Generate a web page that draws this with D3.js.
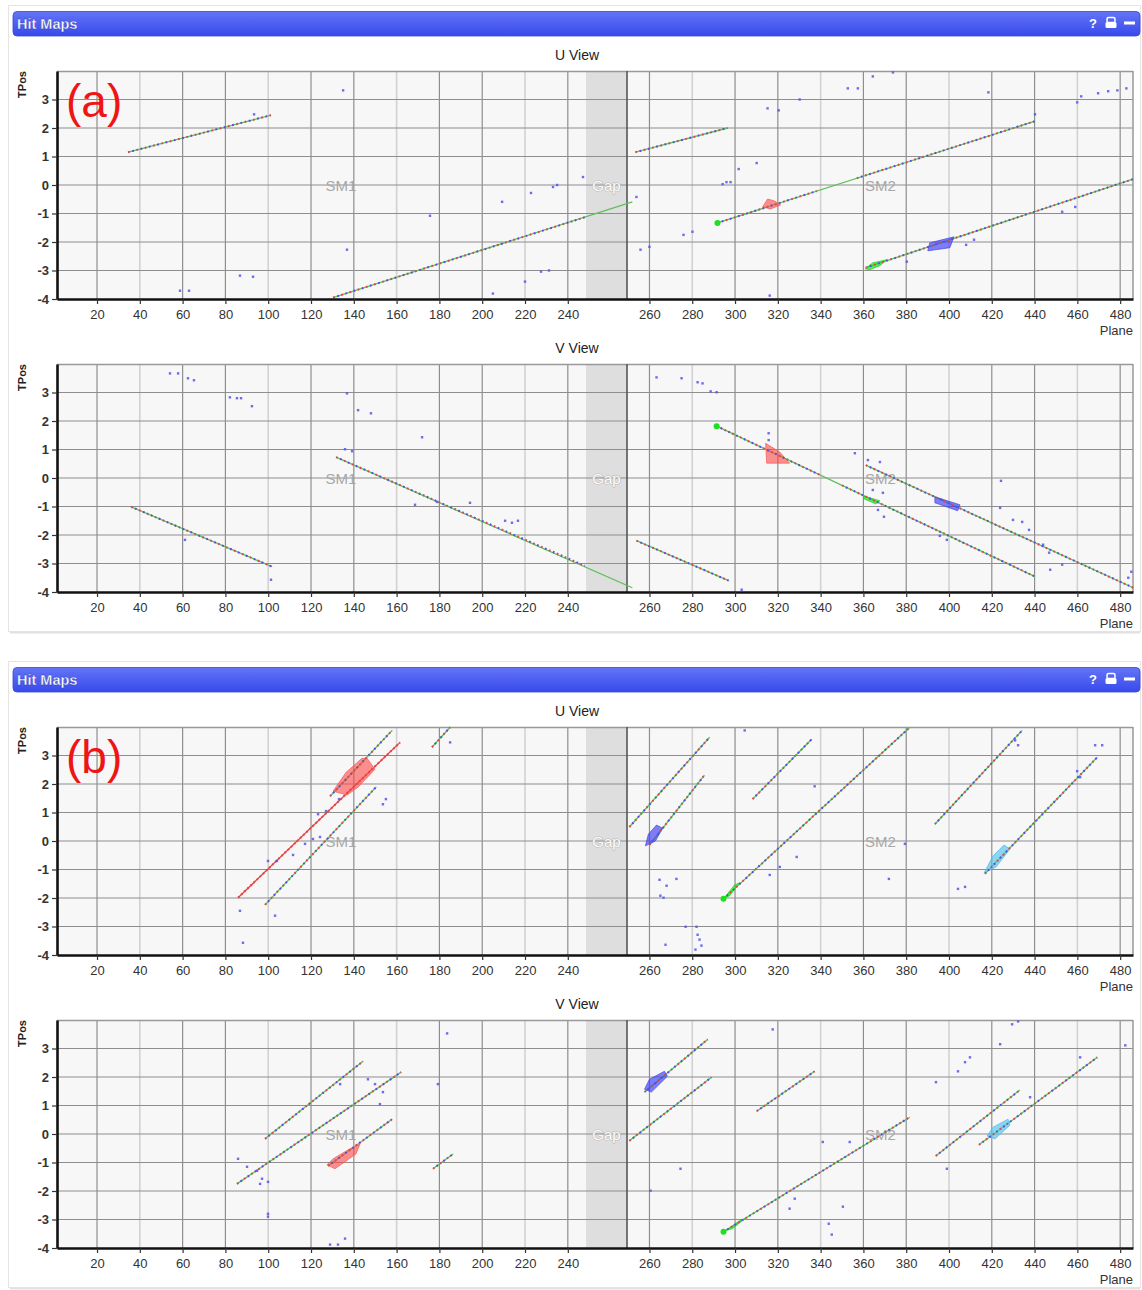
<!DOCTYPE html>
<html><head><meta charset="utf-8">
<script src="https://cdn.jsdelivr.net/npm/d3@7"></script>
<style>body{margin:0;background:#fff;font-family:"Liberation Sans",Arial,Helvetica,sans-serif}</style>
</head><body><svg id="c" width="1142" height="1290"></svg>
<script>
// ---------- axes / categories ----------
const planeTicks = [20,40,60,80,100,120,140,160,180,200,220,240,260,280,300,320,340,360,380,400,420,440,460,480];
const lightGridPlanes = [40,100,160,220,280,340,400,460];
const tposTicks = [-4,-3,-2,-1,0,1,2,3];
const planeDomain = [1.3, 248.5, 249.5, 486];
const tposDomain = [-4, 4];
const gapPlanes = [248.5, 249.5];
const moduleNames = ["SM1", "SM2"];
const modulePlanes = [134, 368];
const panelTitles = ["Hit Maps", "Hit Maps"];
const panelLabels = ["(a)", "(b)"];
const viewNames = ["U View", "V View"];

// ---------- panel (a), U view ----------
const aU_tracks = [[34.5,1.15,101.3,2.45,"g"],[130.3,-3.95,252.0,-0.59,"g"],[253.4,1.15,296.5,2.00,"g"],[291.8,-1.33,440.2,2.24,"g"],[361.1,-2.90,486.1,0.21,"g"]];
const aU_hits = [[34.5,1.15,101.3,2.45],[130.3,-3.95,248.0,-1.13],[253.4,1.15,296.5,2.00],[291.8,-1.33,338.2,-0.21],[356.9,0.24,440.2,2.24],[361.1,-2.90,486.1,0.21]];
const aU_clusters = [
  ["red",[[312.9,-0.77],[315.2,-0.49],[318.5,-0.56],[321.3,-0.70],[316.6,-0.84]]],
  ["green",[[360.7,-2.94],[364.4,-2.73],[371.0,-2.62],[367.7,-2.83],[363.0,-2.97]]],
  ["blue",[[390.1,-2.31],[391.0,-2.03],[402.3,-1.82],[400.4,-2.20]]]
];
const aU_starts = [[291.8,-1.33]];
const aU_noise = [[135.0,3.32],[93.4,2.48],[58.8,-3.71],[63.0,-3.71],[86.8,-3.18],[92.9,-3.22],[136.8,-2.27],[175.6,-1.08],[209.3,-0.59],[222.8,-0.28],[233.1,-0.07],[235.0,0.0],[247.1,0.28],[205.0,-3.81],[220.0,-3.39],[227.5,-3.04],[231.2,-3.0],[253.9,-0.42],[255.8,-2.27],[260,-2.17],[275.9,-1.75],[280.1,-1.64],[294.2,0.03],[296.0,0.10],[297.9,0.10],[301.7,0.56],[310.1,0.77],[315.2,2.69],[320.4,2.62],[330.2,3.0],[316.2,-3.88],[352.7,3.39],[357.4,3.39],[364.4,3.81],[373.8,3.95],[380.3,-2.69],[411.7,-1.92],[408.0,-2.10],[418.4,3.25],[440.2,2.48],[459.9,2.90],[461.8,3.11],[469.7,3.22],[474.4,3.29],[478.7,3.32],[482.9,3.39],[452.9,-0.94],[459.0,-0.77]];

// ---------- panel (a), V view ----------
const aV_tracks = [[35.9,-1.01,101.8,-3.11,"g"],[131.7,0.73,252.0,-3.85,"g"],[253.9,-2.20,297.0,-3.60,"g"],[291.4,1.82,440.2,-3.46,"g"],[361.1,0.45,486.1,-3.85,"g"]];
const aV_hits = [[35.9,-1.01,101.8,-3.11],[131.7,0.73,248.0,-3.08],[253.9,-2.20,297.0,-3.60],[291.4,1.82,339.6,0.11],[350,-0.26,440.2,-3.46],[361.1,0.45,486.1,-3.85]];
const aV_clusters = [
  ["red",[[314.3,1.22],[320.9,0.91],[325.5,0.52],[314.8,0.52]]],
  ["green",[[360.2,-0.63],[367.7,-0.80],[365.8,-0.91],[360.2,-0.73]]],
  ["blue",[[393.4,-0.66],[405.1,-0.94],[404.1,-1.15],[393.4,-0.87]]]
];
const aV_starts = [[291.4,1.82]];
const aV_noise = [[54.1,3.67],[57.9,3.67],[62.5,3.50],[65.3,3.43],[82.1,2.83],[85.4,2.80],[87.3,2.80],[92.4,2.52],[101.3,-3.57],[136.8,2.97],[142.0,2.38],[148.0,2.27],[171.9,1.43],[135.9,1.01],[139.2,0.94],[61.1,-2.17],[168.6,-0.94],[178.9,-0.84],[194.3,-0.87],[210.7,-1.50],[213.9,-1.57],[216.7,-1.50],[263.3,3.53],[275.0,3.50],[282.5,3.36],[284.8,3.32],[288.6,3.04],[291.4,3.01],[303.1,-3.92],[315.7,1.57],[315.7,1.33],[356.0,0.87],[362.1,0.63],[367.7,0.56],[364.4,-0.42],[369.1,-0.52],[366.8,-1.12],[369.6,-1.36],[395.7,-2.03],[399.0,-2.17],[423.9,-1.05],[429.9,-1.47],[434.2,-1.54],[437.4,-1.82],[444.0,-2.34],[446.8,-2.62],[452.9,-3.04],[447.3,-3.22],[483.8,-3.50],[485.2,-3.29],[424.3,-0.10]];

// ---------- panel (b), U view ----------
const bU_tracks = [[85.9,-1.99,161.6,3.46,"r"],[128.9,1.57,157.9,3.88,"g"],[98.5,-2.24,150.5,1.90,"g"],[176.5,3.29,185.0,3.99,"g"],[250.6,0.49,288.1,3.64,"g"],[260.0,-0.14,285.7,2.31,"g"],[308.2,1.47,335.8,3.57,"g"],[294.6,-2.03,381.7,3.99,"g"],[393.4,0.59,434.2,3.88,"g"],[416.8,-1.15,469.3,2.94,"g"]];
const bU_clusters = [
  ["red",[[130.3,1.75],[136.4,2.41],[143.8,2.90],[146.2,2.90],[149.9,2.52],[142.0,1.89],[136.8,1.61]]],
  ["blue",[[258.1,-0.17],[259.5,0.24],[263.3,0.56],[266.1,0.45],[262.8,0.0]]],
  ["cyan",[[416.4,-1.12],[420.6,-0.52],[425.7,-0.14],[428.5,-0.28],[422.0,-0.91]]],
  ["green",[[294.6,-2.03],[299.8,-1.54],[302.1,-1.47],[297.5,-1.92]]]
];
const bU_starts = [[294.6,-2.03]];
const bU_noise = [[86.8,-2.45],[88.2,-3.57],[103.2,-2.62],[99.9,-0.70],[104.1,-0.70],[111.6,-0.49],[117.2,-0.10],[120.9,0.07],[124.2,0.14],[123.3,0.94],[127.0,1.05],[133.1,1.47],[153.6,1.29],[155.0,1.47],[185.0,3.46],[264.7,-1.36],[268.0,-1.57],[272.6,-1.33],[265.1,-1.92],[266.6,-1.99],[267.5,-3.64],[276.9,-3.01],[282.0,-3.01],[282.5,-3.29],[283.4,-3.46],[284.3,-3.67],[281.5,-3.81],[304.5,3.88],[316.2,-1.19],[320.9,-0.91],[328.8,-0.56],[337.2,1.92],[371.9,-1.33],[379.4,-0.10],[404.2,-1.68],[407.5,-1.61],[430.9,3.53],[432.3,3.36],[459.9,2.45],[461.3,2.24],[468.3,3.36],[471.6,3.36]];

// ---------- panel (b), V view ----------
const bV_tracks = [[98.5,-0.17,144.3,2.55,"g"],[85.4,-1.75,162.1,2.17,"g"],[127.9,-1.12,157.9,0.52,"g"],[177.0,-1.22,186.4,-0.70,"g"],[250.6,-0.24,289.0,1.99,"g"],[257.7,1.47,287.2,3.32,"g"],[310.1,0.80,337.2,2.20,"g"],[294.6,-3.43,381.7,0.59,"g"],[393.8,-0.77,433.1,1.54,"g"],[414.0,-0.38,469.3,2.69,"g"]];
const bV_clusters = [
  ["red",[[127.5,-1.08],[130.3,-0.87],[138.2,-0.52],[142.9,-0.35],[141.0,-0.70],[131.2,-1.22]]],
  ["blue",[[257.7,1.57],[260.0,1.92],[267.0,2.20],[268.4,2.03],[260.9,1.47]]],
  ["cyan",[[417.8,-0.07],[420.6,0.24],[427.6,0.52],[428.5,0.31],[421.5,-0.17]]],
  ["green",[[295.6,-3.39],[302.1,-3.04],[304.5,-2.97],[298.9,-3.32]]]
];
const bV_starts = [[294.6,-3.43]];
const bV_noise = [[85.9,-0.87],[90.1,-1.15],[94.8,-1.29],[97.1,-1.57],[99.9,-1.68],[96.2,-1.75],[99.9,-2.80],[99.9,-2.90],[128.9,-3.88],[132.6,-3.88],[135.9,-3.67],[133.6,1.75],[146.6,1.92],[149.9,1.75],[153.6,1.47],[152.2,1.05],[183.6,3.53],[179.3,1.75],[260.5,-1.99],[274.5,-1.22],[317.6,3.67],[343.8,-3.15],[345.2,-3.53],[350.4,-2.55],[327.9,-2.27],[325.5,-2.62],[353.6,-0.28],[341.0,-0.28],[393.9,1.82],[404.2,2.20],[407.5,2.52],[409.8,2.69],[423.9,3.15],[429.5,3.85],[432.3,3.95],[461.3,2.69],[482.4,3.11],[399.0,-1.22],[437.9,1.29]];

// ---------- drawing ----------
const svg = d3.select("#c");
const x = d3.scaleLinear().domain(planeDomain).range([57, 586, 627, 1133]);
const clusterFill = {red:"rgba(255,70,70,0.6)", blue:"rgba(60,60,245,0.65)", green:"rgba(20,220,20,0.65)", cyan:"rgba(80,195,235,0.65)"};
const clusterStroke = {red:"rgba(250,90,90,0.7)", blue:"rgba(70,70,235,0.7)", green:"rgba(30,210,30,0.7)", cyan:"rgba(80,185,230,0.7)"};

const defs = svg.append("defs");
const grad = defs.append("linearGradient").attr("id","hdr").attr("x1",0).attr("y1",0).attr("x2",0).attr("y2",1);
grad.append("stop").attr("offset","0%").attr("stop-color","#6375f6");
grad.append("stop").attr("offset","100%").attr("stop-color","#3849ec");

function drawView(g, top, view, tracks, hits, clusters, starts, noise) {
  const y = d3.scaleLinear().domain(tposDomain).range([top + 228, top]);
  const x0 = x(planeDomain[0]), x1 = x(planeDomain[planeDomain.length-1]);
  g.append("text").attr("x", 577).attr("y", top - 11).attr("text-anchor","middle")
    .attr("font-size", 14).attr("fill", "#222").text(view);
  g.append("text").attr("transform", `translate(26,${top})rotate(-90)`).attr("text-anchor","end")
    .attr("font-size", 11).attr("font-weight","bold").attr("fill","#222").text("TPos");
  g.append("rect").attr("x", x0).attr("y", top).attr("width", x1 - x0).attr("height", 228).attr("fill", "#f7f7f7");
  g.append("rect").attr("x", x(gapPlanes[0])).attr("y", top).attr("width", x(gapPlanes[1]) - x(gapPlanes[0]))
    .attr("height", 228).attr("fill", "#dedede");
  planeTicks.forEach(p => {
    const light = lightGridPlanes.includes(p);
    g.append("line").attr("x1", x(p)).attr("x2", x(p)).attr("y1", top).attr("y2", top + 228)
      .attr("stroke", light ? "#d2d2d2" : "#8e8e8e").attr("stroke-width", light ? 1.6 : 1.2);
  });
  tposTicks.filter(t => t > tposDomain[0]).forEach(t => {
    g.append("line").attr("x1", x0).attr("x2", x1).attr("y1", y(t)).attr("y2", y(t))
      .attr("stroke", "#8e8e8e").attr("stroke-width", 1.2);
  });
  g.append("line").attr("x1", x0).attr("x2", x1).attr("y1", top + 0.5).attr("y2", top + 0.5).attr("stroke", "#999").attr("stroke-width", 1.5);
  g.append("line").attr("x1", x1).attr("x2", x1).attr("y1", top).attr("y2", top + 228).attr("stroke", "#999").attr("stroke-width", 1.5);
  g.append("line").attr("x1", x(gapPlanes[1])).attr("x2", x(gapPlanes[1])).attr("y1", top).attr("y2", top + 228)
    .attr("stroke", "#555").attr("stroke-width", 1.6);
  // module labels
  moduleNames.forEach((m, i) => {
    g.append("text").attr("x", x(modulePlanes[i])).attr("y", y(0) + 6).attr("text-anchor","middle")
      .attr("font-size", 15).attr("fill", "#a8a8a8").text(m);
  });
  g.append("text").attr("x", (x(gapPlanes[0]) + x(gapPlanes[1])) / 2).attr("y", y(0) + 6).attr("text-anchor","middle")
    .attr("font-size", 15).attr("fill", "#fbfbfb").attr("stroke","#b8b8b8").attr("stroke-width",1.1)
    .attr("paint-order","stroke").text("Gap");

  const line = d3.line().x(d => x(d[0])).y(d => y(d[1]));
  // track lines
  tracks.forEach(t => {
    g.append("path").attr("d", line([[t[0], t[1]], [t[2], t[3]]])).attr("fill","none")
      .attr("stroke", t[4] === "r" ? "#f23c3c" : "#5fbf5f").attr("stroke-width", 1.3);
  });
  // clusters
  clusters.forEach(c => {
    g.append("path").attr("d", line(c[1]) + "Z").attr("fill", clusterFill[c[0]])
      .attr("stroke", clusterStroke[c[0]]).attr("stroke-width", 1).attr("stroke-linejoin","round");
  });
  // hits (dots along the track)
  hits.forEach(h => {
    const d = line([[h[0], h[1]], [h[2], h[3]]]);
    const red = h[4] === "r";
    g.append("path").attr("d", d).attr("fill","none").attr("stroke", "#d94a4a")
      .attr("stroke-width", 2).attr("stroke-dasharray", "1.8 6.8");
    g.append("path").attr("d", d).attr("fill","none").attr("stroke", red ? "#e04848" : "#4f4fe0")
      .attr("stroke-width", 2).attr("stroke-dasharray", "1.8 6.8").attr("stroke-dashoffset", -4.3);
  });
  // noise hits
  g.selectAll(null).data(noise).enter().append("rect")
    .attr("x", d => x(d[0]) - 1.2).attr("y", d => y(d[1]) - 1.2).attr("width", 2.4).attr("height", 2.4)
    .attr("fill", "#5454ec").attr("opacity", 0.85);
  // track start vertices
  g.selectAll(null).data(starts).enter().append("circle")
    .attr("cx", d => x(d[0])).attr("cy", d => y(d[1])).attr("r", 3).attr("fill", "#1ee01e");
  // axes
  const ax = g.append("g").attr("transform", `translate(0,${top + 228})`)
    .call(d3.axisBottom(x).tickValues(planeTicks).tickSize(5).tickSizeOuter(0).tickPadding(6).tickFormat(d => String(d)));
  ax.select(".domain").attr("stroke", "#111").attr("stroke-width", 2.4);
  ax.selectAll(".tick line").attr("stroke", "#333").attr("stroke-width", 1.2);
  ax.selectAll("text").attr("font-size", 13).attr("fill", "#333").attr("font-family", "Liberation Sans, Arial, sans-serif");
  const ay = g.append("g").attr("transform", `translate(${x0},0)`)
    .call(d3.axisLeft(y).tickValues(tposTicks).tickSize(5).tickSizeOuter(0).tickPadding(3).tickFormat(d => String(d)));
  ay.select(".domain").attr("stroke", "#111").attr("stroke-width", 2.6);
  ay.selectAll(".tick line").attr("stroke", "#333").attr("stroke-width", 1.2);
  ay.selectAll("text").attr("font-size", 13).attr("font-weight","bold").attr("fill", "#333").attr("font-family", "Liberation Sans, Arial, sans-serif");
  g.append("text").attr("x", x1).attr("y", top + 264).attr("text-anchor","end")
    .attr("font-size", 13).attr("fill", "#333").text("Plane");
}

function drawPanel(off, idx, views) {
  const g = svg.append("g").attr("transform", `translate(0,${off})`);
  g.append("rect").attr("x", 8.5).attr("y", 5.5).attr("width", 1132).attr("height", 626)
    .attr("fill", "#fff").attr("stroke", "#e4e4e4");
  g.append("line").attr("x1", 10).attr("x2", 1140).attr("y1", 632.5).attr("y2", 632.5).attr("stroke","#e2e2e2").attr("stroke-width",2);
  g.append("rect").attr("x", 13).attr("y", 11.5).attr("width", 1127).attr("height", 24.5).attr("rx", 4)
    .attr("fill", "url(#hdr)").attr("stroke", "#3a48d6").attr("stroke-width", 0.8);
  g.append("text").attr("x", 17).attr("y", 28.5).attr("font-size", 14.5).attr("font-weight","bold")
    .attr("fill", "#fff").attr("stroke","#2a35a0").attr("stroke-width",0.3).text(panelTitles[idx]);
  g.append("text").attr("x", 1093).attr("y", 28).attr("text-anchor","middle").attr("font-size", 13)
    .attr("font-weight","bold").attr("fill", "#fff").text("?");
  g.append("rect").attr("x", 1107).attr("y", 17.5).attr("width", 8).attr("height", 5).attr("rx",1.5).attr("fill","none").attr("stroke","#fff").attr("stroke-width",1.5);
  g.append("rect").attr("x", 1105.5).attr("y", 22).attr("width", 11).attr("height", 6).attr("rx",1.5).attr("fill","#fff");
  g.append("rect").attr("x", 1124).attr("y", 21.5).attr("width", 11).attr("height", 3).attr("fill","#fff");
  views.forEach((v, i) => drawView(g, 71 + i * 293, viewNames[i], ...v));
  g.append("text").attr("x", 66).attr("y", 117).attr("font-size", 46).attr("fill", "#ee1515").text(panelLabels[idx]);
}

drawPanel(0, 0, [
  [aU_tracks, aU_hits, aU_clusters, aU_starts, aU_noise],
  [aV_tracks, aV_hits, aV_clusters, aV_starts, aV_noise]
]);
drawPanel(656, 1, [
  [bU_tracks, bU_tracks.map(t => [t[0], t[1], t[2], t[3], t[4]]), bU_clusters, bU_starts, bU_noise],
  [bV_tracks, bV_tracks.map(t => [t[0], t[1], t[2], t[3], t[4]]), bV_clusters, bV_starts, bV_noise]
]);
</script></body></html>
